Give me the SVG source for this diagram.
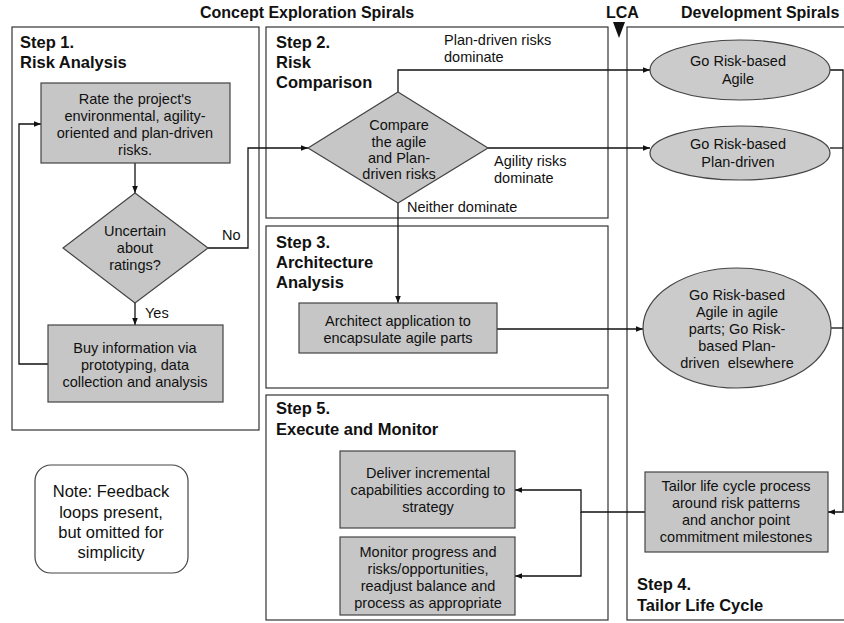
<svg xmlns="http://www.w3.org/2000/svg" width="844" height="623" viewBox="0 0 844 623">
<style>
text{font-family:"Liberation Sans",Arial,sans-serif;fill:#111}
.t{font-size:14.5px;text-anchor:middle}
.l{font-size:14.5px}
.h{font-size:16.5px;font-weight:bold}
.title{font-size:16px;font-weight:bold}
.frame{fill:#fff;stroke:#333;stroke-width:1.2}
.box{fill:#c6c6c6;stroke:#444;stroke-width:1.2}
.ell{fill:#cbcbcb;stroke:#444;stroke-width:1.2}
.c{fill:none;stroke:#111;stroke-width:1.3}
</style>
<defs>
<marker id="a" viewBox="0 0 10 10" refX="10" refY="5" markerWidth="7" markerHeight="7" orient="auto" markerUnits="userSpaceOnUse">
<path d="M0,1 L10,5 L0,9 z" fill="#111"/>
</marker>
</defs>
<rect width="844" height="623" fill="#fff"/>

<g id="titles">
<text class="title" x="200" y="18">Concept Exploration Spirals</text>
<text class="title" x="606" y="18">LCA</text>
<path d="M613,22 L625,22 L619,38 z" fill="#111"/>
<text class="title" x="681" y="18">Development Spirals</text>
</g>

<g id="frames">
<rect class="frame" x="12" y="27" width="247" height="403"/>
<rect class="frame" x="266" y="27" width="342" height="191"/>
<rect class="frame" x="266" y="226" width="342" height="162"/>
<rect class="frame" x="266" y="395" width="342" height="225"/>
<rect class="frame" x="627" y="27" width="230" height="593"/>
</g>

<g id="labels">
<text class="h" x="20" y="48">Step 1.</text>
<text class="h" x="20" y="68">Risk Analysis</text>
<text class="h" x="276" y="48">Step 2.</text>
<text class="h" x="276" y="68">Risk</text>
<text class="h" x="276" y="88">Comparison</text>
<text class="h" x="276" y="248">Step 3.</text>
<text class="h" x="276" y="268">Architecture</text>
<text class="h" x="276" y="288">Analysis</text>
<text class="h" x="276" y="414">Step 5.</text>
<text class="h" x="276" y="435">Execute and Monitor</text>
<text class="h" x="637" y="590">Step 4.</text>
<text class="h" x="637" y="611">Tailor Life Cycle</text>
</g>

<g id="connectors">
<path class="c" d="M135,163 V193" marker-end="url(#a)"/>
<path class="c" d="M135,303 V325" marker-end="url(#a)"/>
<path class="c" d="M48,364 H19 V124 H41" marker-end="url(#a)"/>
<path class="c" d="M208,248 H248 V148 H308" marker-end="url(#a)"/>
<path class="c" d="M398,92 V70 H650" marker-end="url(#a)"/>
<path class="c" d="M488,148 H650" marker-end="url(#a)"/>
<path class="c" d="M398,203 V303" marker-end="url(#a)"/>
<path class="c" d="M497,329 H643" marker-end="url(#a)"/>
<path class="c" d="M830,70 H843 V512 H828" marker-end="url(#a)"/>
<path class="c" d="M830,148 H843"/>
<path class="c" d="M831,328 H843"/>
<path class="c" d="M645,512 H581 V490 H515" marker-end="url(#a)"/>
<path class="c" d="M581,512 V576 H515" marker-end="url(#a)"/>
<text class="l" x="222" y="240">No</text>
<text class="l" x="145" y="318">Yes</text>
<text class="l" x="444" y="45">Plan-driven risks</text>
<text class="l" x="444" y="62">dominate</text>
<text class="l" x="494" y="166">Agility risks</text>
<text class="l" x="494" y="183">dominate</text>
<text class="l" x="407" y="212">Neither dominate</text>
</g>

<g id="rate">
<rect class="box" x="41" y="83" width="189" height="80"/>
<text class="t" x="135" y="104">Rate the project's</text>
<text class="t" x="135" y="121">environmental, agility-</text>
<text class="t" x="135" y="138">oriented and plan-driven</text>
<text class="t" x="135" y="155">risks.</text>
</g>

<g id="uncertain">
<path class="box" d="M135,193 L208,248 L135,303 L63,248 z"/>
<text class="t" x="135" y="236">Uncertain</text>
<text class="t" x="135" y="253">about</text>
<text class="t" x="135" y="270">ratings?</text>
</g>

<g id="buy">
<rect class="box" x="48" y="325" width="175" height="77"/>
<text class="t" x="135" y="353">Buy information via</text>
<text class="t" x="135" y="370">prototyping, data</text>
<text class="t" x="135" y="387">collection and analysis</text>
</g>

<g id="compare">
<path class="box" d="M398,92 L488,148 L398,203 L308,148 z"/>
<text class="t" x="399" y="130">Compare</text>
<text class="t" x="399" y="147">the agile</text>
<text class="t" x="399" y="163">and Plan-</text>
<text class="t" x="399" y="179">driven risks</text>
</g>

<g id="architect">
<rect class="box" x="299" y="303" width="198" height="50"/>
<text class="t" x="398" y="326">Architect application to</text>
<text class="t" x="398" y="343">encapsulate agile parts</text>
</g>

<g id="agile">
<ellipse class="ell" cx="740" cy="70" rx="90" ry="30"/>
<text class="t" x="738" y="66">Go Risk-based</text>
<text class="t" x="738" y="84">Agile</text>
</g>

<g id="plandriven">
<ellipse class="ell" cx="740" cy="153" rx="90" ry="27"/>
<text class="t" x="738" y="149">Go Risk-based</text>
<text class="t" x="738" y="167">Plan-driven</text>
</g>

<g id="mixed">
<ellipse class="ell" cx="737" cy="328" rx="94" ry="60"/>
<text class="t" x="737" y="300">Go Risk-based</text>
<text class="t" x="737" y="317">Agile in agile</text>
<text class="t" x="737" y="334">parts; Go Risk-</text>
<text class="t" x="737" y="351">based Plan-</text>
<text class="t" x="737" y="368" xml:space="preserve">driven  elsewhere</text>
</g>

<g id="tailor">
<rect class="box" x="645" y="472" width="183" height="80"/>
<text class="t" x="736" y="491">Tailor life cycle process</text>
<text class="t" x="736" y="508">around risk patterns</text>
<text class="t" x="736" y="525">and anchor point</text>
<text class="t" x="736" y="542">commitment milestones</text>
</g>

<g id="deliver">
<rect class="box" x="340" y="451" width="175" height="77"/>
<text class="t" x="428" y="478">Deliver incremental</text>
<text class="t" x="428" y="495">capabilities according to</text>
<text class="t" x="428" y="512">strategy</text>
</g>

<g id="monitor">
<rect class="box" x="340" y="537" width="175" height="78"/>
<text class="t" x="428" y="557">Monitor progress and</text>
<text class="t" x="428" y="574">risks/opportunities,</text>
<text class="t" x="428" y="591">readjust balance and</text>
<text class="t" x="428" y="608">process as appropriate</text>
</g>

<g id="note">
<rect x="35" y="465" width="153" height="108" rx="16" fill="#fff" stroke="#444" stroke-width="1.2"/>
<text x="111" y="497" style="font-size:16.5px;text-anchor:middle">Note: Feedback</text>
<text x="111" y="518" style="font-size:16.5px;text-anchor:middle">loops present,</text>
<text x="111" y="538" style="font-size:16.5px;text-anchor:middle">but omitted for</text>
<text x="111" y="558" style="font-size:16.5px;text-anchor:middle">simplicity</text>
</g>
</svg>
